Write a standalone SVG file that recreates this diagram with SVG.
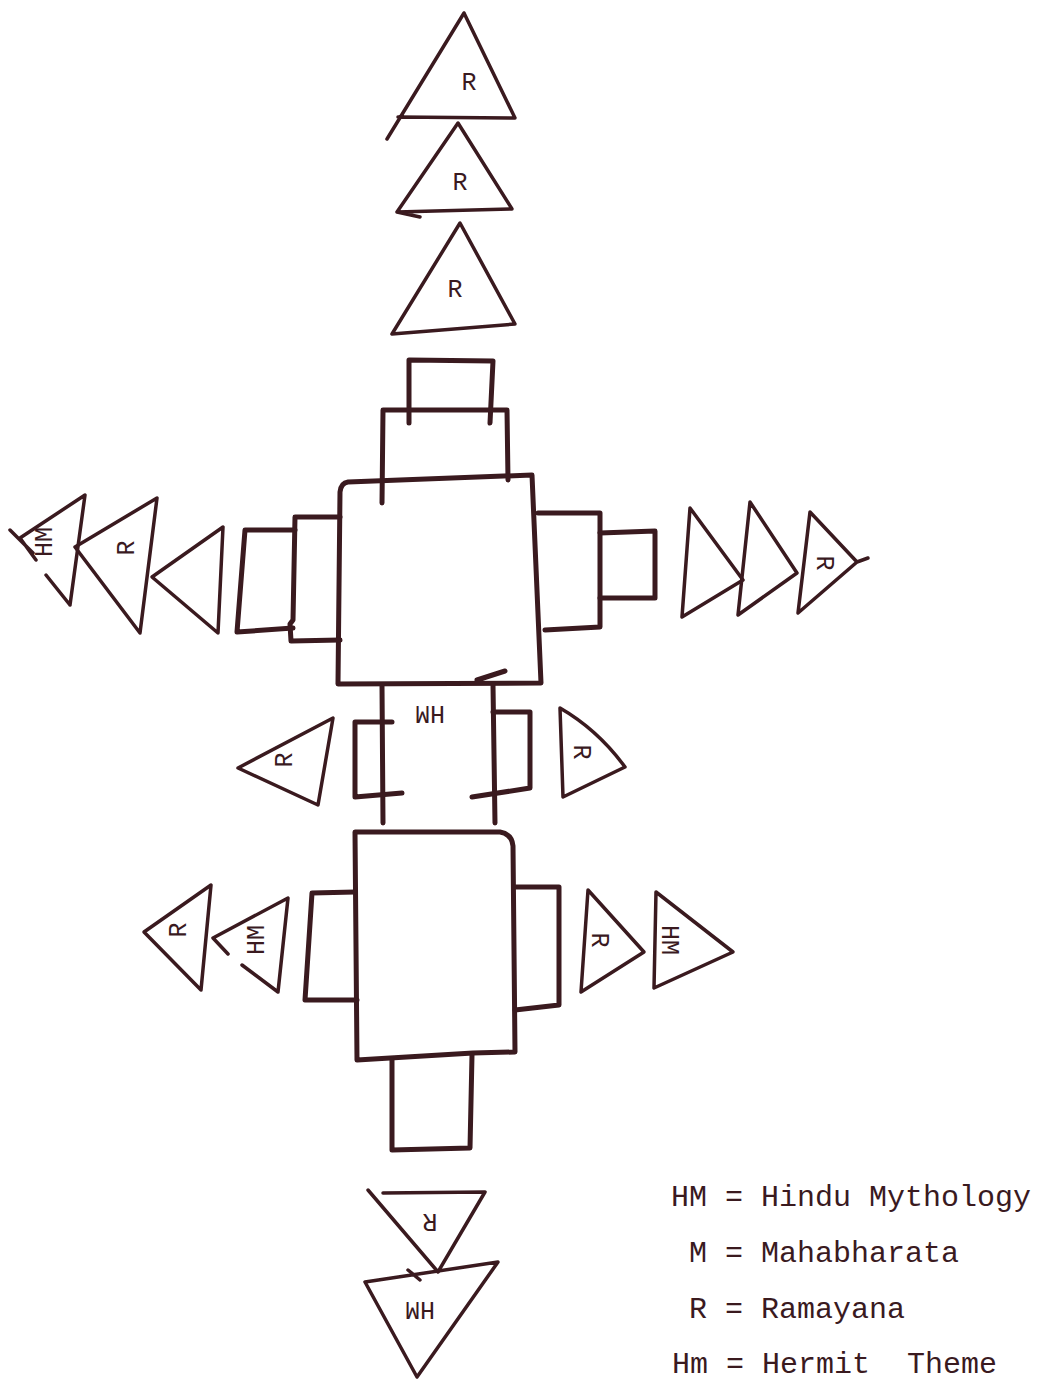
<svg xmlns="http://www.w3.org/2000/svg" width="1052" height="1381" viewBox="0 0 1052 1381">
<style>
.s{fill:none;stroke:#3a1a1f;stroke-linejoin:round;stroke-linecap:round}
.t{stroke-width:3.5}
.r{stroke-width:5}
.lb{font-family:"Liberation Mono","Courier New",monospace;font-size:25px;fill:#3a1a1f;text-anchor:middle;dominant-baseline:central}
.lg{font-family:"Liberation Mono","Courier New",monospace;font-size:30px;fill:#3a1a1f}
</style>
<rect width="1052" height="1381" fill="#ffffff"/>
<g id="top-tri-1"><path class="s t" d="M464,13 L387,139 M398,117 L515,118 L464,13"/><text class="lb" x="469" y="83">R</text></g>
<g id="top-tri-2"><path class="s t" d="M458,123 L397,212 L512,209 Z M397,212 L420,217"/><text class="lb" x="460" y="183">R</text></g>
<g id="top-tri-3"><path class="s t" d="M460,223 L392,334 L515,324 Z"/><text class="lb" x="455" y="290">R</text></g>
<g id="top-rect-small"><path class="s r" d="M409,423 L409,360 L493,361 L490,423"/></g>
<g id="top-rect-mid"><path class="s r" d="M382,503 L383,410 L507,410 L508,480"/></g>
<g id="upper-main"><path class="s r" d="M348,482 L532,475 L541,683 L338,684 L340,492 Q341,483 348,482 Z M477,680 L505,671"/></g>
<g id="upper-left-rect-inner"><path class="s r" d="M340,517 L295,517 L293,620 L290,624 L291,641 L340,640"/></g>
<g id="upper-left-rect-outer"><path class="s r" d="M295,530 L245,530 L237,632 L293,628"/></g>
<g id="left-tri-3"><path class="s t" d="M152,577 L223,527 L218,633 Z"/></g>
<g id="left-tri-2"><path class="s t" d="M75,547 L157,498 L140,633 Z"/><text class="lb" transform="translate(127,548) rotate(-90)">R</text></g>
<g id="left-tri-1"><path class="s t" d="M20,538 L85,495 L70,605 M20,538 L36,560 M46,575 L70,605 M10,530 L33,553"/><text class="lb" transform="translate(45,542) rotate(-90)">HM</text></g>
<g id="upper-right-rect-inner"><path class="s r" d="M538,513 L600,513 L600,627 L545,630"/></g>
<g id="upper-right-rect-outer"><path class="s r" d="M600,533 L655,531 L655,598 L600,598"/></g>
<g id="right-tri-1"><path class="s t" d="M690,508 L743,580 L682,617 Z"/></g>
<g id="right-tri-2"><path class="s t" d="M750,502 L797,573 L738,615 Z"/></g>
<g id="right-tri-3"><path class="s t" d="M810,512 L857,562 L798,613 Z M857,562 L868,558"/><text class="lb" transform="translate(823,563) rotate(90)">R</text></g>
<g id="connectors"><path class="s r" d="M382,685 L383,823 M493,685 L495,823"/></g>
<g id="mid-label"><text class="lb" transform="translate(430,712) rotate(180)">HM</text></g>
<g id="mid-left-bracket"><path class="s r" d="M392,722 L355,722 L355,797 L402,793"/></g>
<g id="mid-right-bracket"><path class="s r" d="M493,712 L530,712 L530,788 L472,797"/></g>
<g id="mid-left-tri"><path class="s t" d="M238,768 L333,718 L318,805 Z"/><text class="lb" transform="translate(285,760) rotate(-90)">R</text></g>
<g id="mid-right-tri"><path class="s t" d="M560,708 Q598,730 625,767 L563,797 Z"/><text class="lb" transform="translate(580,752) rotate(90)">R</text></g>
<g id="lower-main"><path class="s r" d="M355,832 L500,832 Q512,834 513,846 L515,1052 L473,1053 L357,1060 Z"/></g>
<g id="lower-left-rect"><path class="s r" d="M355,892 L312,893 L305,1000 L357,1000"/></g>
<g id="lower-right-rect"><path class="s r" d="M515,887 L559,887 L559,1005 L515,1010"/></g>
<g id="lower-left-tri-1"><path class="s t" d="M144,932 L211,885 L201,990 Z"/><text class="lb" transform="translate(179,930) rotate(-90)">R</text></g>
<g id="lower-left-tri-2"><path class="s t" d="M213,938 L288,898 L278,992 L242,965 M213,938 L228,954"/><text class="lb" transform="translate(257,940) rotate(-90)">HM</text></g>
<g id="lower-right-tri-1"><path class="s t" d="M588,890 L644,952 L581,992 Z"/><text class="lb" transform="translate(598,940) rotate(90)">R</text></g>
<g id="lower-right-tri-2"><path class="s t" d="M656,892 L733,952 L654,988 Z"/><text class="lb" transform="translate(668,940) rotate(90)">HM</text></g>
<g id="bottom-rect"><path class="s r" d="M392,1060 L392,1150 L470,1148 L472,1055"/></g>
<g id="bottom-tri-1"><path class="s t" d="M368,1190 L438,1272 L485,1192 L383,1193"/><text class="lb" transform="translate(430,1220) rotate(180)">R</text></g>
<g id="bottom-tri-2"><path class="s t" d="M365,1282 L498,1262 L417,1377 Z M408,1270 L420,1280"/><text class="lb" transform="translate(420,1308) rotate(180)">HM</text></g>
<g id="legend">
<text class="lg" x="671" y="1206">HM = Hindu Mythology</text>
<text class="lg" x="689" y="1262">M = Mahabharata</text>
<text class="lg" x="689" y="1318">R = Ramayana</text>
<text class="lg" x="672" y="1373">Hm = Hermit <tspan x="907">Theme</tspan></text>
</g>
</svg>
